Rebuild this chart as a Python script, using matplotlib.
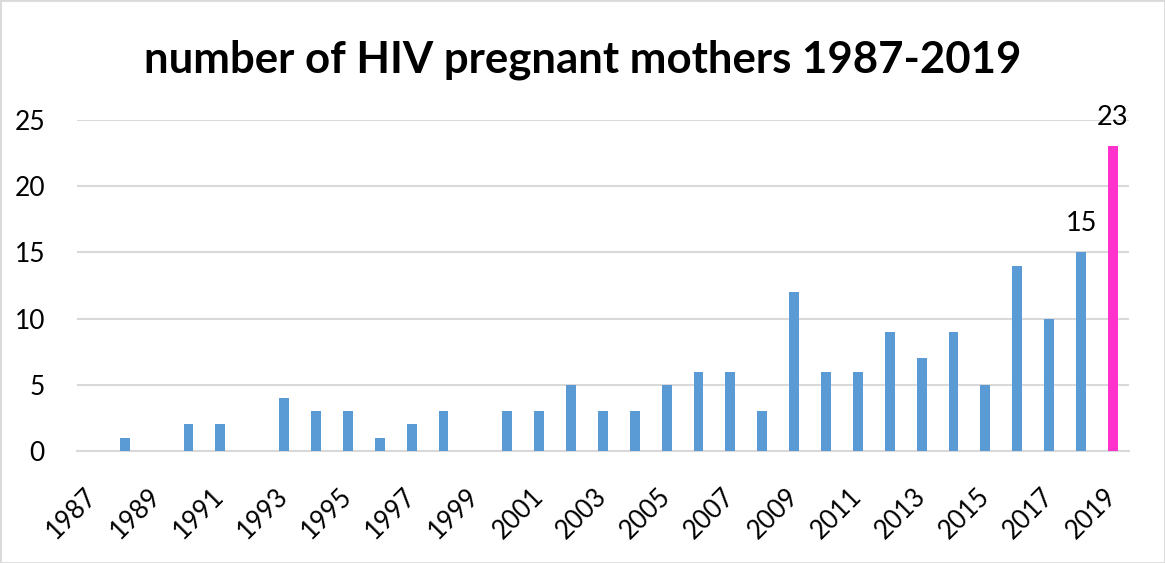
import matplotlib.pyplot as plt
from matplotlib.patches import Rectangle

plt.rcParams['font.family'] = ['Lato', 'DejaVu Sans']

years = list(range(1987, 2020))
counts = [0, 1, 0, 2, 2, 0, 4, 3, 3, 1, 2, 3, 0, 3, 3, 5, 3, 3, 5, 6, 6, 3,
          12, 6, 6, 9, 7, 9, 5, 14, 10, 15, 23]
labelled = [2018, 2019]

colors = ['#FF33CC' if y == 2019 else '#5B9BD5' for y in years]

fig = plt.figure(figsize=(11.65, 5.63), dpi=100)
ax = fig.add_axes([0.066, 0.199, 0.903, 0.588])

x = range(len(years))
ax.bar(x, counts, width=0.31, color=colors, zorder=3)

for i, (y, c) in enumerate(zip(years, counts)):
    if y in labelled:
        ax.annotate(str(c), (i, c), xytext=(0, 12), textcoords='offset points',
                    ha='center', va='bottom', fontsize=19.5)

ax.set_xlim(-0.5, len(years) - 0.5)
ax.set_ylim(0, 25)
ax.set_yticks(range(0, 26, 5))
ax.set_xticks(list(x)[::2])
ax.set_xticklabels([str(y) for y in years[::2]], rotation=45, ha='right',
                   va='center', rotation_mode='anchor')
ax.tick_params(axis='x', length=0, labelsize=18.5, pad=30)
ax.tick_params(axis='y', length=0, labelsize=19, pad=23)
ax.grid(axis='y', color='#D9D9D9', linewidth=1.5, zorder=0)
for s in ['top', 'right', 'left']:
    ax.spines[s].set_visible(False)
ax.spines['bottom'].set_color('#D9D9D9')
ax.spines['bottom'].set_linewidth(1.5)

fig.text(0.5, 0.893, 'number of HIV pregnant mothers 1987-2019', ha='center',
         va='center', fontsize=31.5, fontweight='bold')

fig.patches.append(Rectangle((0, 0), 1, 1, transform=fig.transFigure,
                             fill=False, edgecolor='#D9D9D9', linewidth=2))

fig.savefig('out.png', dpi=100)
